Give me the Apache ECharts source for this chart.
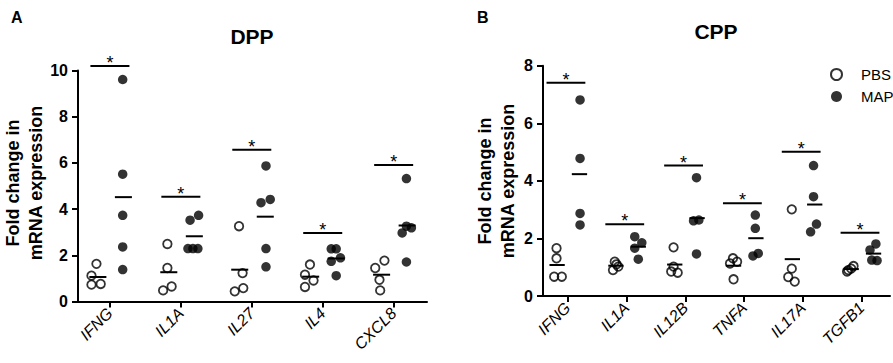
<!DOCTYPE html>
<html><head><meta charset="utf-8">
<script src="https://cdn.jsdelivr.net/npm/echarts@6/dist/echarts.min.js"></script>
<style>html,body{margin:0;padding:0;background:#fff}#c{width:893px;height:363px}</style>
</head><body><div id="c"></div>
<script>
// ---- Panel A (DPP) ----
const catsA = ['IFNG', 'IL1A', 'IL27', 'IL4', 'CXCL8'];
const pbsA = [[1.63, 1.12, 0.73, 0.76], [2.49, 1.45, 0.48, 0.65], [3.26, 1.23, 0.44, 0.58], [1.60, 1.16, 0.91, 0.63], [1.77, 1.45, 0.94, 0.48]];
const pbsAJitter = [[-0.19, -0.26, -0.26, -0.13], [-0.19, -0.19, -0.25, -0.13], [-0.18, -0.13, -0.24, -0.12], [-0.18, -0.25, -0.13, -0.25], [-0.13, -0.26, -0.20, -0.19]];
const mapA = [[9.61, 5.51, 3.73, 2.36, 1.38], [3.52, 3.73, 2.29, 2.29, 2.29], [5.87, 4.28, 4.42, 2.29, 1.50], [2.28, 2.28, 1.74, 1.89, 1.12], [5.32, 2.97, 3.26, 3.19, 1.71]];
const mapAJitter = [[0.18, 0.18, 0.18, 0.18, 0.18], [0.13, 0.25, 0.10, 0.17, 0.24], [0.20, 0.13, 0.26, 0.20, 0.20], [0.12, 0.19, 0.12, 0.25, 0.19], [0.18, 0.12, 0.18, 0.25, 0.18]];
const sigA = [10.2, 4.54, 6.57, 2.97, 5.91];
const yTicksA = [0, 2, 4, 6, 8, 10];

// ---- Panel B (CPP) ----
const catsB = ['IFNG', 'IL1A', 'IL12B', 'TNFA', 'IL17A', 'TGFB1'];
const pbsB = [[1.66, 1.31, 0.67, 0.67], [1.19, 0.90, 1.02, 1.10], [1.69, 0.85, 0.81, 1.02], [1.31, 1.13, 1.19, 0.58], [3.01, 0.95, 0.66, 0.50], [0.90, 1.04, 0.85, 0.95]];
const pbsBJitter = [[-0.19, -0.19, -0.23, -0.10], [-0.20, -0.23, -0.14, -0.17], [-0.20, -0.24, -0.13, -0.20], [-0.19, -0.24, -0.12, -0.18], [-0.19, -0.19, -0.25, -0.14], [-0.23, -0.14, -0.25, -0.18]];
const mapB = [[6.81, 4.78, 2.87, 2.47], [2.06, 1.85, 1.66, 1.28], [4.11, 2.61, 2.64, 1.46], [2.81, 2.35, 1.39, 1.48], [4.53, 3.45, 2.50, 2.23], [1.81, 1.60, 1.25, 1.23]];
const mapBJitter = [[0.21, 0.21, 0.21, 0.21], [0.14, 0.26, 0.14, 0.20], [0.19, 0.14, 0.23, 0.19], [0.19, 0.19, 0.15, 0.24], [0.18, 0.18, 0.23, 0.13], [0.24, 0.14, 0.17, 0.26]];
const sigB = [7.41, 2.49, 4.53, 3.22, 5.01, 2.2];
const yTicksB = [0, 2, 4, 6, 8];

const yTitle = 'Fold change in\nmRNA expression';

const FONT = "'Liberation Sans', Arial, sans-serif";
const BLACK = '#000';

function pts(vals, jit) {
  const out = [];
  vals.forEach((arr, i) => arr.forEach((v, k) => out.push([i + jit[i][k], v])));
  return out;
}
function means(vals, off) {
  return vals.map((arr, i) => [i + off, arr.reduce((a, b) => a + b, 0) / arr.length]);
}
function meanSeries(idx, data, hw) {
  return {
    type: 'custom', xAxisIndex: idx, yAxisIndex: idx, z: 5, silent: true,
    data: data,
    renderItem: (params, api) => {
      const x = api.value(0), y = api.value(1);
      const a = api.coord([x - hw, y]), b = api.coord([x + hw, y]);
      return { type: 'line', shape: { x1: a[0], y1: a[1], x2: b[0], y2: b[1] }, style: { stroke: BLACK, lineWidth: 2 } };
    }
  };
}
function sigSeries(idx, sig, c, hw) {
  return {
    type: 'custom', xAxisIndex: idx, yAxisIndex: idx, z: 6, silent: true,
    data: sig.map((y, i) => [i, y]),
    renderItem: (params, api) => {
      const x = api.value(0), y = api.value(1);
      const a = api.coord([x + c - hw, y]), b = api.coord([x + c + hw, y]);
      return {
        type: 'group', children: [
          { type: 'line', shape: { x1: a[0], y1: a[1], x2: b[0], y2: b[1] }, style: { stroke: BLACK, lineWidth: 2 } },
          { type: 'text', x: (a[0] + b[0]) / 2, y: a[1] + 6, style: { text: '*', fill: BLACK, font: "18px " + FONT, textAlign: 'center', textVerticalAlign: 'bottom' } }
        ]
      };
    }
  };
}
function xAxis(idx, cats, min, max) {
  const vals = cats.map((c, i) => i);
  return {
    gridIndex: idx, type: 'value', min: min, max: max,
    axisLine: { show: true, onZero: false, lineStyle: { color: BLACK, width: 2 } },
    axisTick: { show: true, customValues: vals, length: 6, lineStyle: { color: BLACK, width: 2 } },
    axisLabel: { customValues: vals, formatter: v => cats[Math.round(v)], rotate: 45, margin: 9, color: BLACK, fontStyle: 'italic', fontSize: 16, fontFamily: FONT },
    splitLine: { show: false }
  };
}
function yAxis(idx, ticks) {
  return {
    gridIndex: idx, type: 'value', min: ticks[0], max: ticks[ticks.length - 1], interval: ticks[1] - ticks[0],
    axisLine: { show: true, onZero: false, lineStyle: { color: BLACK, width: 2 } },
    axisTick: { show: true, length: 6, lineStyle: { color: BLACK, width: 2 } },
    axisLabel: { color: BLACK, fontWeight: 'bold', fontSize: 16, margin: 10, fontFamily: FONT },
    splitLine: { show: false }
  };
}
function yTitleText(cx, cy) {
  return {
    type: 'text', x: cx, y: cy, rotation: Math.PI / 2,
    style: { text: yTitle, fill: BLACK, font: "bold 18px " + FONT, lineHeight: 23, textAlign: 'center', textVerticalAlign: 'middle' }
  };
}
const pbsStyle = { color: 'rgba(0,0,0,0)', borderColor: BLACK, borderWidth: 1.8 };
const mapStyle = { color: BLACK };

const option = {
  animation: false,
  backgroundColor: '#fff',
  textStyle: { fontFamily: FONT },
  title: [
    { text: 'A', left: 6, top: 4, textStyle: { fontSize: 16, fontWeight: 'bold', color: BLACK, fontFamily: FONT } },
    { text: 'DPP', left: 247, top: 21, textAlign: 'center', textStyle: { fontSize: 21, fontWeight: 'bold', color: BLACK, fontFamily: FONT } },
    { text: 'B', left: 472, top: 4, textStyle: { fontSize: 16, fontWeight: 'bold', color: BLACK, fontFamily: FONT } },
    { text: 'CPP', left: 711, top: 16, textAlign: 'center', textStyle: { fontSize: 21, fontWeight: 'bold', color: BLACK, fontFamily: FONT } }
  ],
  graphic: [yTitleText(24, 183), yTitleText(496, 181)],
  legend: {
    data: ['PBS', 'MAP'], orient: 'vertical', left: 825, top: 61, itemWidth: 11, itemHeight: 11, itemGap: 5,
    textStyle: { fontSize: 15, color: BLACK, fontFamily: FONT, lineHeight: 17, padding: [0, 0, 0, 14] },
    selectedMode: false
  },
  grid: [
    { left: 78, top: 70.5, width: 349, height: 231 },
    { left: 543, top: 65.7, width: 347, height: 230.3 }
  ],
  xAxis: [xAxis(0, catsA, -0.45, 4.47), xAxis(1, catsB, -0.42, 5.48)],
  yAxis: [yAxis(0, yTicksA), yAxis(1, yTicksB)],
  series: [
    { name: 'PBS', type: 'scatter', xAxisIndex: 0, yAxisIndex: 0, symbol: 'circle', symbolSize: 8.5, itemStyle: pbsStyle, data: pts(pbsA, pbsAJitter) },
    { name: 'MAP', type: 'scatter', xAxisIndex: 0, yAxisIndex: 0, symbol: 'circle', symbolSize: 9.5, itemStyle: mapStyle, data: pts(mapA, mapAJitter) },
    { name: 'PBS', type: 'scatter', xAxisIndex: 1, yAxisIndex: 1, symbol: 'circle', symbolSize: 8.5, itemStyle: pbsStyle, data: pts(pbsB, pbsBJitter) },
    { name: 'MAP', type: 'scatter', xAxisIndex: 1, yAxisIndex: 1, symbol: 'circle', symbolSize: 9.5, itemStyle: mapStyle, data: pts(mapB, mapBJitter) },
    meanSeries(0, means(pbsA, -0.17), 0.12),
    meanSeries(0, means(mapA, 0.19), 0.12),
    meanSeries(1, means(pbsB, -0.18), 0.13),
    meanSeries(1, means(mapB, 0.2), 0.13),
    sigSeries(0, sigA, 0.0, 0.275),
    sigSeries(1, sigB, -0.03, 0.33)
  ]
};
const chart = echarts.init(document.getElementById('c'), null, { renderer: 'svg' });
chart.setOption(option);
</script>
</body></html>
